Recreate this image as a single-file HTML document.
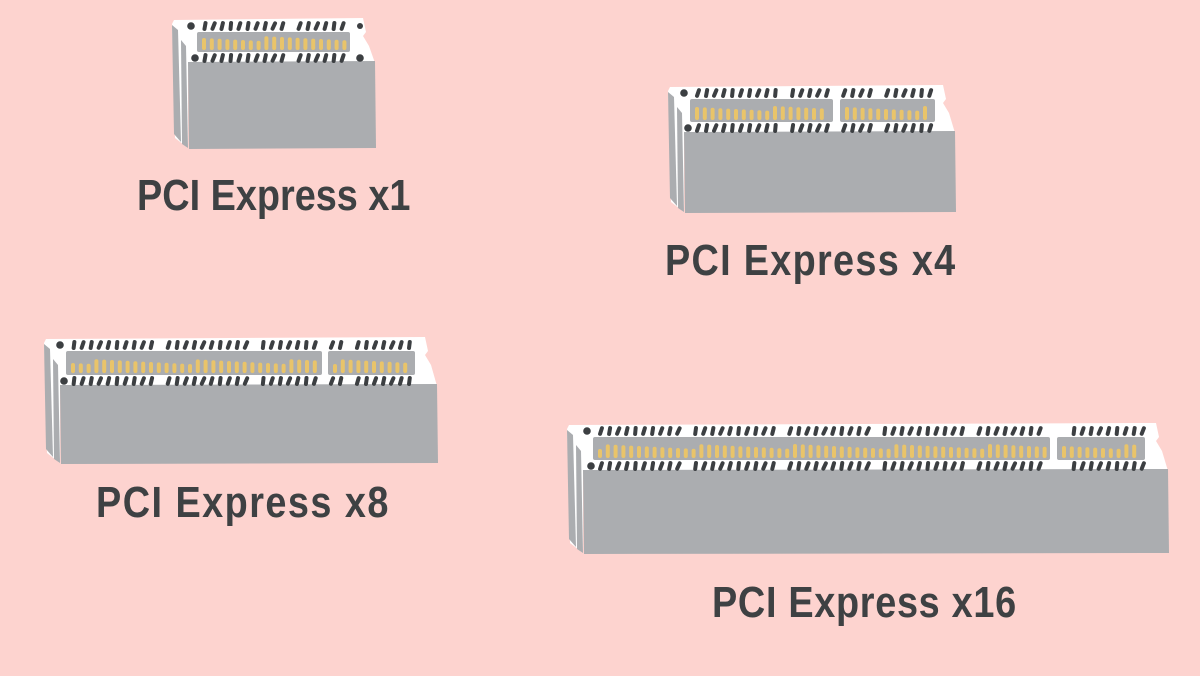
<!DOCTYPE html>
<html><head><meta charset="utf-8"><style>
html,body{margin:0;padding:0;background:#fdd3cf;}
#wrap{position:relative;width:1200px;height:676px;overflow:hidden;background:#fdd3cf;}
svg{position:absolute;left:0;top:0;}
.lb{position:absolute;font-family:"Liberation Sans",sans-serif;font-weight:bold;color:#3e4143;font-size:44px;white-space:nowrap;letter-spacing:0px;transform:scaleX(0.86);transform-origin:left top;}
</style></head><body><div id="wrap">
<svg id="s" width="1200" height="676" xmlns="http://www.w3.org/2000/svg"></svg>
<div class="lb" style="left:137px;top:171px;">PCI Express x1</div>
<div class="lb" style="left:665px;top:236px;letter-spacing:1.5px;">PCI Express x4</div>
<div class="lb" style="left:96px;top:478px;letter-spacing:1.7px;">PCI Express x8</div>
<div class="lb" style="left:712px;top:578px;letter-spacing:0.8px;">PCI Express x16</div>
</div>
<script>
var out='';
function slot(L,T,R,B,F,wins){
  var G='#abadb0',W='#ffffff';
  out+='<polygon fill="'+W+'" points="'+(L+2)+','+(T+2)+' '+(R-12)+','+T+' '+(R-9)+','+(T+14)+' '+(R-12)+','+(T+18)+' '+(R-6)+','+(T+28)+' '+R+','+(F+2)+' '+(L+16)+','+(F+2)+' '+(L+12)+','+(T+28)+' '+(L+6)+','+(T+14)+' '+L+','+(T+6)+'"/>';
  out+='<polygon fill="'+W+'" points="'+L+','+(T+6)+' '+(L+16)+','+(T+20)+' '+(L+16)+','+B+' '+(L+3)+','+(B-10)+'"/>';
  out+='<polygon fill="'+G+'" points="'+L+','+(T+7)+' '+(L+6)+','+(T+12)+' '+(L+9)+','+(B-6)+' '+(L+2)+','+(B-14)+'"/>';
  out+='<polygon fill="'+G+'" points="'+(L+9)+','+(T+22)+' '+(L+14)+','+(T+28)+' '+(L+16)+','+B+' '+(L+10)+','+(B-4)+'"/>';
  out+='<polygon fill="'+G+'" points="'+(L+16)+','+(F+1)+' '+R+','+F+' '+(R+1)+','+B+' '+(L+17)+','+(B+1)+'"/>';
  var wy1=T+14,wy2=F-9;
  wins.forEach(function(w){
    out+='<rect fill="'+G+'" x="'+w[0]+'" y="'+wy1+'" width="'+(w[1]-w[0])+'" height="'+(wy2-wy1)+'" rx="2"/>';
    for(var x=w[0]+7;x<w[1]-4;x+=7.8){
      var h=9+((x*7)%5);
      out+='<rect fill="#e9c46a" x="'+(x-2)+'" y="'+(wy2-2-h)+'" width="4" height="'+h+'" rx="2"/>';
    }
  });
  function row(y,x0,x1){
    var k=0;
    for(var x=x0;x<x1;x+=8.6){
      k++;
      var inGap=false;
      for(var i=0;i<wins.length-1;i++){ if(x>wins[i][1]-2&&x<wins[i+1][0]+4) inGap=true;}
      if(inGap) continue;
      if(k%11==0) continue;
      var a=((x*13)%20)-10;
      out+='<rect fill="#3c3f42" x="'+(x-2)+'" y="'+(y-5)+'" width="4" height="10" rx="2" transform="rotate('+(a+15)+' '+x+' '+y+')"/>';
    }
  }
  var first=wins[0][0],last=wins[wins.length-1][1];
  row(T+8,first+8,last-2);
  row(F-3,first+8,last-2);
  out+='<circle fill="#3c3f42" cx="'+(first-6)+'" cy="'+(T+8)+'" r="3.8"/>';
  out+='<circle fill="#3c3f42" cx="'+(first-2)+'" cy="'+(F-3)+'" r="3.8"/>';
  if(wins.length==1){
    out+='<circle fill="#3c3f42" cx="'+(last+10)+'" cy="'+(T+8)+'" r="3"/>';
    out+='<circle fill="#3c3f42" cx="'+(last+10)+'" cy="'+(F-3)+'" r="3.8"/>';
  }
}
slot(172,18,375,148,61,[[197,350]]);
slot(668,85,955,212,131,[[690,833],[840,935]]);
slot(44,337,437,463,384,[[66,322],[328,415]]);
slot(567,423,1168,553,469,[[593,1050],[1057,1145]]);
document.getElementById('s').innerHTML=out;
</script>
</body></html>
